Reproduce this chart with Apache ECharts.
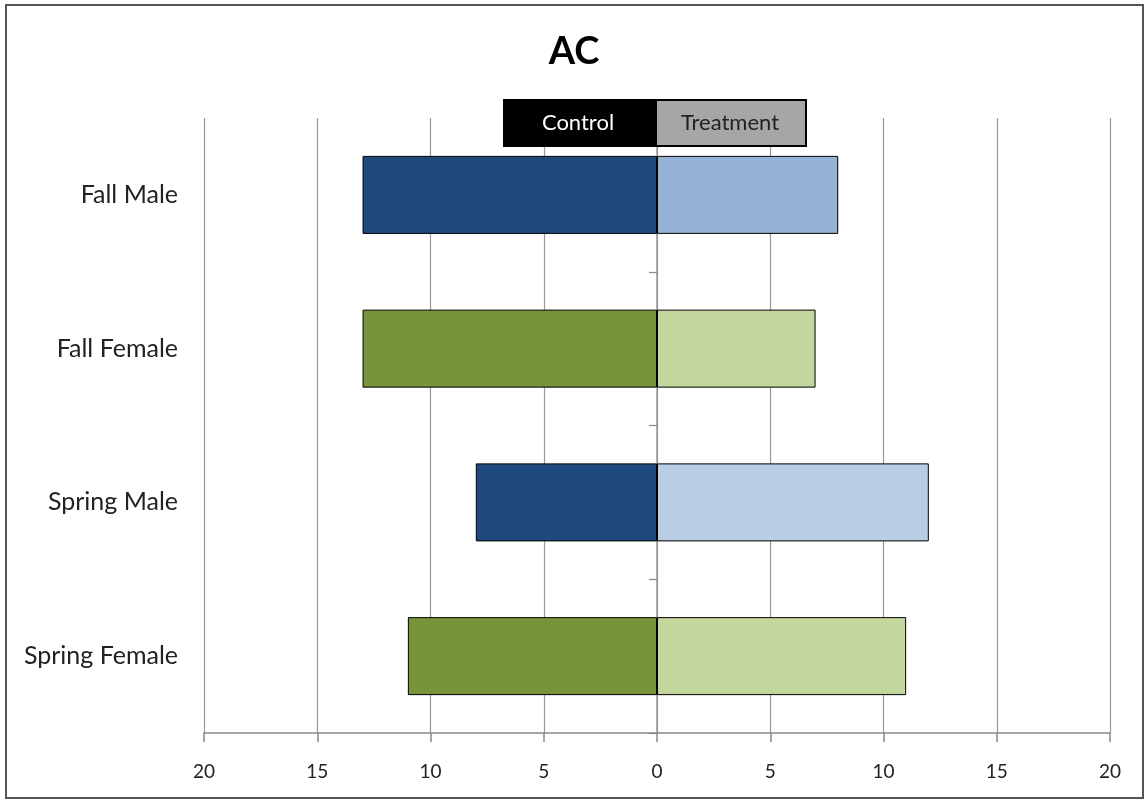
<!DOCTYPE html>
<html>
<head>
<meta charset="utf-8">
<script src="https://cdn.jsdelivr.net/npm/echarts@6/dist/echarts.min.js"></script>
<style>
  html, body { margin: 0; padding: 0; background: #fff; }
  #chart { width: 1148px; height: 801px; }
</style>
</head>
<body>
<div id="chart"></div>
<script>
// Groups, top to bottom
const categories = ['Fall Male', 'Fall Female', 'Spring Male', 'Spring Female'];
// Counts per group
const controlValues = [13, 13, 8, 11];
const treatmentValues = [8, 7, 12, 11];
// Fill colours per group
const controlColors = ['#1F497D', '#77933C', '#1F497D', '#77933C'];
const treatmentColors = ['#95B3D7', '#C3D69B', '#B9CDE5', '#C3D69B'];
const xTicks = [-20, -15, -10, -5, 0, 5, 10, 15, 20];

const FONT = 'Lato, "Open Sans", sans-serif';
const GRID_LEFT = 204, GRID_RIGHT = 38, WIDTH = 1148;
// distance from the grid's left edge to the zero line
const zeroOffset = (WIDTH - GRID_LEFT - GRID_RIGHT) * (0 - xTicks[0]) / (xTicks[xTicks.length - 1] - xTicks[0]);

const chart = echarts.init(document.getElementById('chart'));
const barStyle = { borderColor: '#000', borderWidth: 1 };

chart.setOption({
  backgroundColor: '#fff',
  animation: false,
  title: {
    text: 'AC',
    left: 'center',
    top: 28,
    textStyle: { fontFamily: FONT, fontSize: 38, fontWeight: 'bold', color: '#000' }
  },
  grid: { left: GRID_LEFT, right: GRID_RIGHT, top: 118, bottom: 68 },
  xAxis: {
    type: 'value',
    min: xTicks[0],
    max: xTicks[xTicks.length - 1],
    interval: 5,
    axisLine: { show: true, lineStyle: { color: '#888', width: 1.5 } },
    axisTick: { show: true, length: 9, lineStyle: { color: '#888', width: 1.5 } },
    splitLine: { show: true, lineStyle: { color: '#999', width: 1.2 } },
    axisLabel: {
      margin: 29,
      fontFamily: FONT, fontSize: 19, color: '#222',
      formatter: v => String(Math.abs(v))
    }
  },
  yAxis: [
    {
      type: 'category',
      data: categories,
      inverse: true,
      position: 'left',
      axisLine: { show: false, onZero: false },
      axisTick: { show: false },
      axisLabel: { margin: 26, fontFamily: FONT, fontSize: 25, color: '#222' }
    },
    {
      // centre axis line at zero with its small separators
      type: 'category',
      data: categories,
      inverse: true,
      position: 'left',
      offset: -zeroOffset,
      axisLine: { show: true, onZero: false, lineStyle: { color: '#999', width: 1.5 } },
      axisTick: { show: true, length: 8, lineStyle: { color: '#888', width: 1.2 } },
      axisLabel: { show: false }
    }
  ],
  series: [
    {
      name: 'Control',
      type: 'bar',
      stack: 'total',
      barWidth: 78,
      data: controlValues.map((v, i) => ({ value: -v, itemStyle: Object.assign({ color: controlColors[i] }, barStyle) }))
    },
    {
      name: 'Treatment',
      type: 'bar',
      stack: 'total',
      barWidth: 78,
      data: treatmentValues.map((v, i) => ({ value: v, itemStyle: Object.assign({ color: treatmentColors[i] }, barStyle) }))
    }
  ],
  graphic: [
    // outer chart frame
    { type: 'rect', shape: { x: 6, y: 5, width: 1137, height: 793 }, style: { fill: 'none', stroke: '#555', lineWidth: 2 }, silent: true },
    // legend
    { type: 'rect', shape: { x: 504, y: 100, width: 152, height: 46 }, style: { fill: '#000', stroke: '#000', lineWidth: 2 }, z: 10 },
    { type: 'rect', shape: { x: 656, y: 100, width: 150, height: 46 }, style: { fill: '#A6A6A6', stroke: '#000', lineWidth: 2 }, z: 10 },
    { type: 'text', x: 578, y: 123, style: { text: 'Control', fill: '#fff', font: '22px ' + FONT, align: 'center', verticalAlign: 'middle' }, z: 11 },
    { type: 'text', x: 730, y: 123, style: { text: 'Treatment', fill: '#222', font: '22px ' + FONT, align: 'center', verticalAlign: 'middle' }, z: 11 }
  ]
});
</script>
</body>
</html>
